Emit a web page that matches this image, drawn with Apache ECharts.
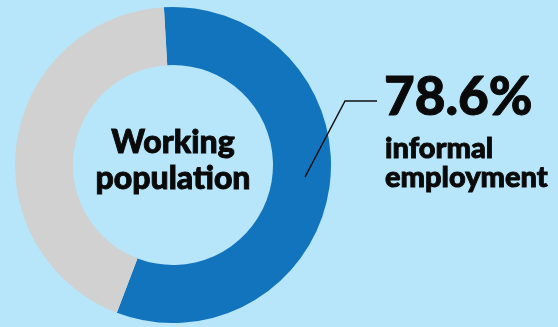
<!DOCTYPE html>
<html>
<head>
<meta charset="utf-8">
<script src="https://cdn.jsdelivr.net/npm/echarts@6/dist/echarts.min.js"></script>
<style>
  html, body { margin: 0; padding: 0; background: #b7e5f9; }
  #main { width: 558px; height: 327px; }
</style>
</head>
<body>
<div id="main"></div>
<script>
// slice shares as drawn (blue = informal, grey = the rest)
var categories = ['Informal', 'Formal'];
var shares = [56.7, 43.3];
var sliceColors = ['#1174bc', '#d1d1d2'];
var centerLines = ['Working', 'population'];
var headline = '78.6%';
var subLines = ['informal', 'employment'];

var chart = echarts.init(document.getElementById('main'));

// heavy black text, a thin stroke makes Lato look closer to the original black weight
function heavy(size) {
    return {
        font: '900 ' + size + 'px Lato',
        fill: '#0a0a0a',
        stroke: '#0a0a0a',
        lineWidth: 0.9
    };
}

var option = {
    backgroundColor: '#b7e5f9',
    animation: false,
    series: [{
        type: 'pie',
        center: [173, 165],
        radius: [100, 158],
        startAngle: 93.3,
        clockwise: true,
        label: { show: false },
        labelLine: { show: false },
        silent: true,
        data: categories.map(function (c, i) {
            return { name: c, value: shares[i], itemStyle: { color: sliceColors[i] } };
        })
    }],
    graphic: [
        {
            type: 'text',
            z: 100,
            style: Object.assign(heavy(32), {
                text: centerLines.join('\n'),
                x: 173, y: 125,
                align: 'center',
                verticalAlign: 'top',
                lineHeight: 36
            })
        },
        {
            type: 'polyline',
            z: 100,
            shape: { points: [[305, 177], [345, 101], [377, 101]] },
            style: { stroke: '#111', lineWidth: 1.5, fill: null }
        },
        {
            type: 'text',
            z: 100,
            style: Object.assign(heavy(53), {
                text: headline,
                x: 384, y: 71,
                verticalAlign: 'top'
            })
        },
        {
            type: 'text',
            z: 100,
            style: Object.assign(heavy(29), {
                text: subLines.join('\n'),
                x: 385, y: 134,
                verticalAlign: 'top',
                lineHeight: 29
            })
        }
    ]
};

chart.setOption(option);
</script>
</body>
</html>
